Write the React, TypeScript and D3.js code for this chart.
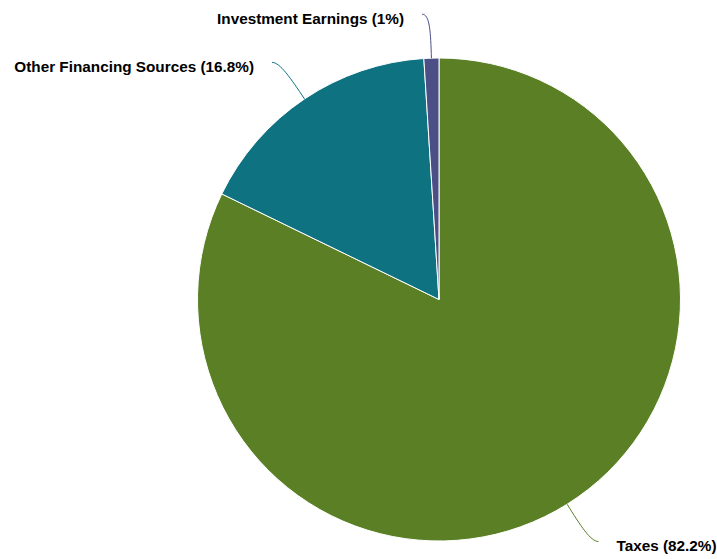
import React from "react";
import * as d3 from "d3";

const categories = ["Taxes", "Other Financing Sources", "Investment Earnings"];
const values = [82.2, 16.8, 1];
const labels = ["Taxes (82.2%)", "Other Financing Sources (16.8%)", "Investment Earnings (1%)"];
const colors = ["#5a7f24", "#0e7281", "#4b4f85"];

const W = 717, H = 559;
const cx = 439, cy = 299.5, R = 241.5;

export default function App() {
  const pie = d3.pie<number>().sort(null).value((d) => d);
  const arcs = pie(values);
  const arc = d3.arc<d3.PieArcDatum<number>>().innerRadius(0).outerRadius(R);
  const pt = (a: number, rr: number): [number, number] => [Math.sin(a) * rr, -Math.cos(a) * rr];

  return (
    <svg width={W} height={H} style={{ position: "absolute", left: 0, top: 0, background: "#fff" }}>
      <g transform={`translate(${cx},${cy})`}>
        {arcs.map((a, i) => (
          <path key={categories[i]} d={arc(a) || ""} fill={colors[i]} stroke="#fff" strokeWidth={1} strokeLinejoin="round" />
        ))}
        {arcs.map((a, i) => {
          const mid = (a.startAngle + a.endAngle) / 2;
          const sign = Math.sin(mid) >= 0 ? 1 : -1;
          const E = pt(mid, R);
          const C1 = pt(mid, R + 25);
          const B = pt(mid, R + 44);
          const L: [number, number] = [B[0] + sign * 8, B[1]];
          const path = `M${E[0]},${E[1]} C${C1[0]},${C1[1]} ${B[0]},${B[1]} ${L[0]},${L[1]}`;
          return (
            <g key={"l" + i}>
              <path d={path} fill="none" stroke={colors[i]} strokeWidth={1} />
              <text
                x={L[0] + sign * 18}
                y={L[1] + 5.5}
                textAnchor={sign > 0 ? "start" : "end"}
                dominantBaseline="middle"
                fontFamily="'Liberation Sans', Arial, sans-serif"
                fontWeight="bold"
                fontSize={15.3}
                fill="#000"
              >
                {labels[i]}
              </text>
            </g>
          );
        })}
      </g>
    </svg>
  );
}
